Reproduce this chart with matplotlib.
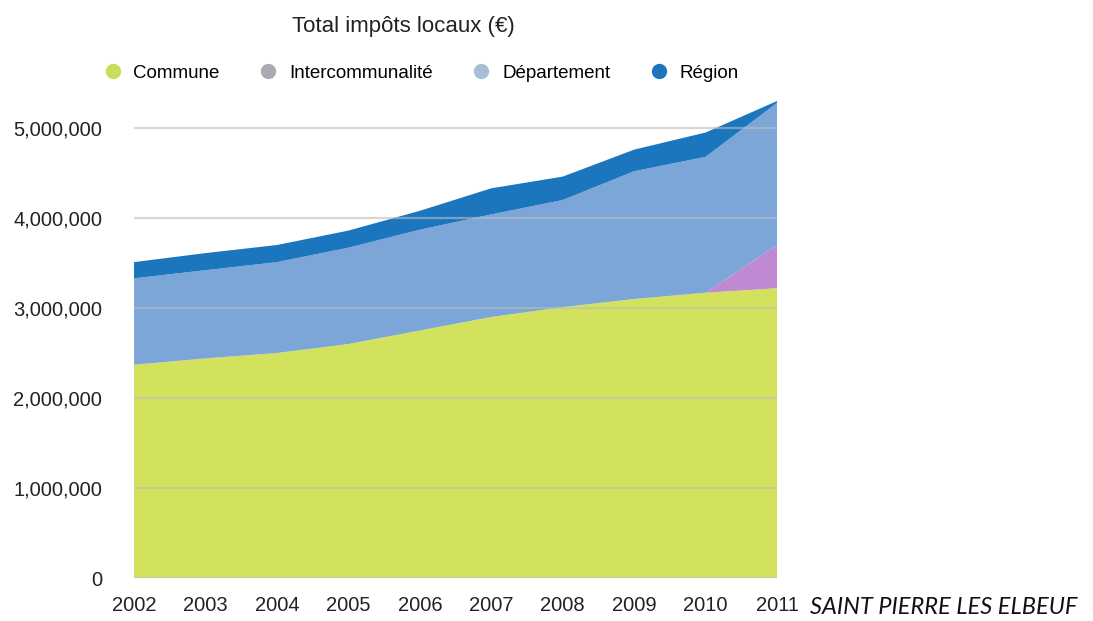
import matplotlib.pyplot as plt
from matplotlib.lines import Line2D
import numpy as np

# local tax totals (euros) per level of government
years = [2002, 2003, 2004, 2005, 2006, 2007, 2008, 2009, 2010, 2011]
commune = [2370000, 2440000, 2500000, 2600000, 2750000, 2900000, 3010000, 3100000, 3170000, 3220000]
intercommunalite = [0, 0, 0, 0, 0, 0, 0, 0, 0, 480000]
departement = [960000, 980000, 1010000, 1070000, 1120000, 1140000, 1190000, 1420000, 1510000, 1580000]
region = [180000, 190000, 190000, 190000, 210000, 290000, 260000, 240000, 270000, 20000]

series_names = ["Commune", "Intercommunalité", "Département", "Région"]
fill_colors = ["#d3e25c", "#c08ad2", "#7ba6d7", "#1b76bd"]
legend_colors = ["#c9dc5c", "#a9a9b2", "#a9bed6", "#1f74bb"]
y_ticks = [0, 1000000, 2000000, 3000000, 4000000, 5000000]

plt.rcParams['font.family'] = ['Liberation Sans', 'DejaVu Sans']

fig = plt.figure(figsize=(10.93, 6.21), dpi=100)
ax = fig.add_axes([0.1226, 0.0692, 0.5884, 0.7754])

ax.stackplot(years, commune, intercommunalite, departement, region,
             colors=fill_colors, linewidth=0, zorder=1)

ax.set_xlim(years[0], years[-1])
ax.set_ylim(0, 5350000)
ax.set_yticks(y_ticks)
ax.set_yticklabels(["{:,}".format(v) for v in y_ticks])
ax.set_xticks(years)
ax.set_xticklabels([str(y) for y in years])
ax.tick_params(axis="both", length=0, labelsize=14.5, colors="#222222")
ax.tick_params(axis="y", pad=23)
ax.tick_params(axis="x", pad=13)

for v in y_ticks:
    ax.axhline(v, color="#bdbdbd", lw=1.6, alpha=0.6, zorder=2)

for s in ax.spines.values():
    s.set_visible(False)

fig.text(0.369, 0.957, "Total impôts locaux (€)", ha="center", va="center",
         fontsize=16, color="#222222")

handles = [Line2D([0], [0], marker="o", linestyle="", markersize=10,
                  markerfacecolor=c, markeredgecolor=c) for c in legend_colors]
fig.legend(handles, series_names, loc="center", bbox_to_anchor=(0.381, 0.882),
           ncol=4, frameon=False, fontsize=13.5, handletextpad=0.1,
           columnspacing=1.6)

fig.text(0.741, 0.005, "SAINT PIERRE LES ELBEUF", ha="left", va="bottom",
         fontsize=17, style="italic", family="Lato", color="#111111")

plt.savefig("out.png", dpi=100)
